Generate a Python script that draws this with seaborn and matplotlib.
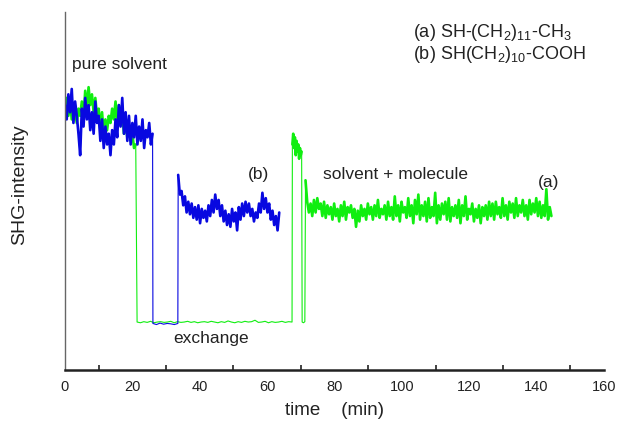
import numpy as np
import pandas as pd
import matplotlib
matplotlib.use("Agg")
import matplotlib.pyplot as plt
from matplotlib.ticker import MultipleLocator
import seaborn as sns

# ---- SHG intensity traces (arbitrary units), time in minutes ----
# (a) SH-(CH2)11-CH3, green trace
a_pure = [73, 76, 71, 75, 70, 74, 72, 69, 73, 71,
          75, 70, 78, 73, 79, 74, 77, 72, 76, 71,
          73, 68, 72, 66, 70, 67, 71, 69, 73, 70,
          75, 69, 74, 70, 72, 66, 70, 65, 68, 64,
          66, 62, 63]
a_pure_t0, a_pure_dt = 0.0, 0.5

a_exch1 = [13.4, 13.2, 13.5, 13.3, 13.6, 13.2, 13.4, 13.5, 13.3, 13.4,
           13.6, 13.2, 13.5, 13.3, 13.4, 13.6, 13.3, 13.5, 13.2, 13.4,
           13.5, 13.3, 13.6, 13.4, 13.2, 13.5, 13.3, 13.7, 13.4, 13.2,
           13.5, 13.3, 13.6, 13.4, 13.5, 13.9, 13.3, 13.4, 13.6, 13.2,
           13.5, 13.3, 13.4, 13.6, 13.3, 13.5, 13.4]
a_exch1_span = (21.4, 67.4)

a_spike = [63, 66, 62, 65, 60, 64, 61, 63, 59, 62, 60, 61]
a_spike_t0, a_spike_dt = 67.5, 0.25

a_exch2 = [13.4, 13.2, 13.5]
a_exch2_span = (70.4, 71.2)

a_mol = [53, 47, 44, 46.5, 43, 47.5, 44, 48, 45, 46.5,
         43, 47, 42.5, 46, 43.5, 45.5, 42, 46.5, 43, 45,
         41.5, 46, 43, 47, 42, 45.5, 44, 46, 42.5, 45,
         40, 44.5, 41.5, 46, 43, 45, 42, 46.5, 43.5, 45.5,
         42, 46, 43, 47.5, 42.5, 45, 43.5, 46, 42, 47,
         43, 45.5, 42, 48.5, 43, 46, 41.5, 47, 44, 45.5,
         42.5, 48, 43, 46, 41, 47.5, 43.5, 49, 42, 46,
         43, 47, 41.5, 48, 42.5, 45.5, 43, 49.5, 41, 46,
         42, 46.5, 43.5, 47, 42, 48, 41.5, 45.5, 43, 46,
         42.5, 47.5, 41, 46, 43, 48.5, 42, 45, 43.5, 46.5,
         41.5, 45, 42.5, 46, 41, 45.5, 43, 46, 42, 47,
         43, 46.5, 42, 47, 43.5, 45.5, 42.5, 48, 43, 46,
         42, 47, 44, 46.5, 42.5, 48, 43, 46, 44, 47.5,
         43, 46, 42, 47.5, 43.5, 46.5, 44, 48, 43, 47,
         42.5, 46, 43, 50.5, 42, 45.5, 43]
a_mol_t0, a_mol_dt = 71.4, 0.5

# (b) SH(CH2)10-COOH, blue trace
b_pure = [74, 70, 77, 72, 78.5, 69, 75, 71, 66, 60,
          73, 68, 76, 70, 74, 67, 72, 66, 75, 69,
          71, 64, 70, 62, 68, 63, 66, 60, 67, 63,
          70, 65, 74, 68, 76, 66, 72, 64, 71, 63,
          69, 65, 71, 63, 68, 64, 70, 62, 67, 65,
          69, 63, 66]
b_pure_t0, b_pure_dt = 0.0, 0.5

b_exch = [13.0, 12.7, 13.1, 12.8, 13.0, 12.9, 12.7, 13.0]
b_exch_span = (26.1, 33.5)

b_mol = [54.5, 49, 50, 46, 48.5, 44, 47, 43.5, 46.5, 42.5,
         45.5, 42, 46, 41, 45, 42.5, 44.5, 41.5, 46, 43,
         47.5, 44, 49, 45, 47.5, 43, 46, 41.5, 44.5, 40.5,
         43.5, 40, 45, 41.5, 44, 39, 45.5, 42, 46.5, 43,
         47, 44, 46.5, 43, 45, 41.5, 44, 42.5, 46.5, 44,
         49.5, 45, 48, 44, 46.5, 42, 44.5, 40.5, 43, 39,
         44]
b_mol_t0, b_mol_dt = 33.6, 0.5

x_ticks = [0, 20, 40, 60, 80, 100, 120, 140, 160]


def stepped(vals, t0, dt):
    t = t0 + dt * np.arange(len(vals))
    return pd.DataFrame({"time": t, "shg": np.asarray(vals, float)})


def spanned(vals, span):
    t = np.linspace(span[0], span[1], len(vals))
    return pd.DataFrame({"time": t, "shg": np.asarray(vals, float)})


a_parts = [stepped(a_pure, a_pure_t0, a_pure_dt),
           spanned(a_exch1, a_exch1_span),
           stepped(a_spike, a_spike_t0, a_spike_dt),
           spanned(a_exch2, a_exch2_span),
           stepped(a_mol, a_mol_t0, a_mol_dt)]
b_parts = [stepped(b_pure, b_pure_t0, b_pure_dt),
           spanned(b_exch, b_exch_span),
           stepped(b_mol, b_mol_t0, b_mol_dt)]
df_a = pd.concat(a_parts, ignore_index=True)
df_b = pd.concat(b_parts, ignore_index=True)

sns.set_theme(style="white")
plt.rcParams["font.family"] = ["Liberation Sans", "DejaVu Sans"]
plt.rcParams["mathtext.fontset"] = "custom"
plt.rcParams["mathtext.rm"] = "Liberation Sans"
plt.rcParams["mathtext.it"] = "Liberation Sans"

fig = plt.figure(figsize=(6.22, 4.22), dpi=100)
ax = fig.add_axes([0.1045, 0.1232, 0.8665, 0.8484])

green = "#10ee10"
blue = "#0808e0"
line = dict(sort=False, estimator=None, ax=ax)

# full traces with thin lines (steps and exchange plateaus)
sns.lineplot(data=df_a, x="time", y="shg", color=green, linewidth=0.8, **line)
# noisy plateaus of trace (a) drawn heavier
for part in (a_parts[0], a_parts[2], a_parts[4]):
    sns.lineplot(data=part, x="time", y="shg", color=green, linewidth=1.9, **line)

sns.lineplot(data=df_b, x="time", y="shg", color=blue, linewidth=0.8, **line)
for part in (b_parts[0], b_parts[2]):
    sns.lineplot(data=part, x="time", y="shg", color=blue, linewidth=1.9, **line)

ax.set_xlim(0, 160)
ax.set_ylim(0, 100)
ax.set_xticks(x_ticks)
ax.xaxis.set_minor_locator(MultipleLocator(10))
ax.set_yticks([])
ax.tick_params(axis="x", which="major", direction="in", length=6, width=1.3,
               color="#222222", labelsize=10.5, pad=7, labelcolor="#222222")
ax.tick_params(axis="x", which="minor", direction="in", length=3.5, width=1.2,
               color="#222222", bottom=True)

for side in ("top", "right"):
    ax.spines[side].set_visible(False)
ax.spines["left"].set_color("#666666")
ax.spines["left"].set_linewidth(1.0)
ax.spines["bottom"].set_color("#222222")
ax.spines["bottom"].set_linewidth(1.8)

ax.set_xlabel("time    (min)", fontsize=13.5, color="#222222", labelpad=6)
ax.set_ylabel("SHG-intensity", fontsize=14, color="#222222")
ax.yaxis.set_label_coords(-0.068, 0.517)

txt = dict(fontsize=12.5, color="#222222", va="center", ha="left")
ax.text(2.1, 85.2, "pure solvent", **txt)
ax.text(54.3, 54.5, "(b)", **txt)
ax.text(76.6, 54.5, "solvent + molecule", **txt)
ax.text(140.4, 52.5, "(a)", **txt)
ax.text(32.0, 8.7, "exchange", **txt)
ax.text(103.3, 94.4, r"(a) SH-(CH$_2$)$_{11}$-CH$_3$", fontsize=13,
        color="#222222", va="center", ha="left")
ax.text(103.3, 88.0, r"(b) SH(CH$_2$)$_{10}$-COOH", fontsize=13,
        color="#222222", va="center", ha="left")

fig.savefig("out.png", dpi=100, facecolor="white")
